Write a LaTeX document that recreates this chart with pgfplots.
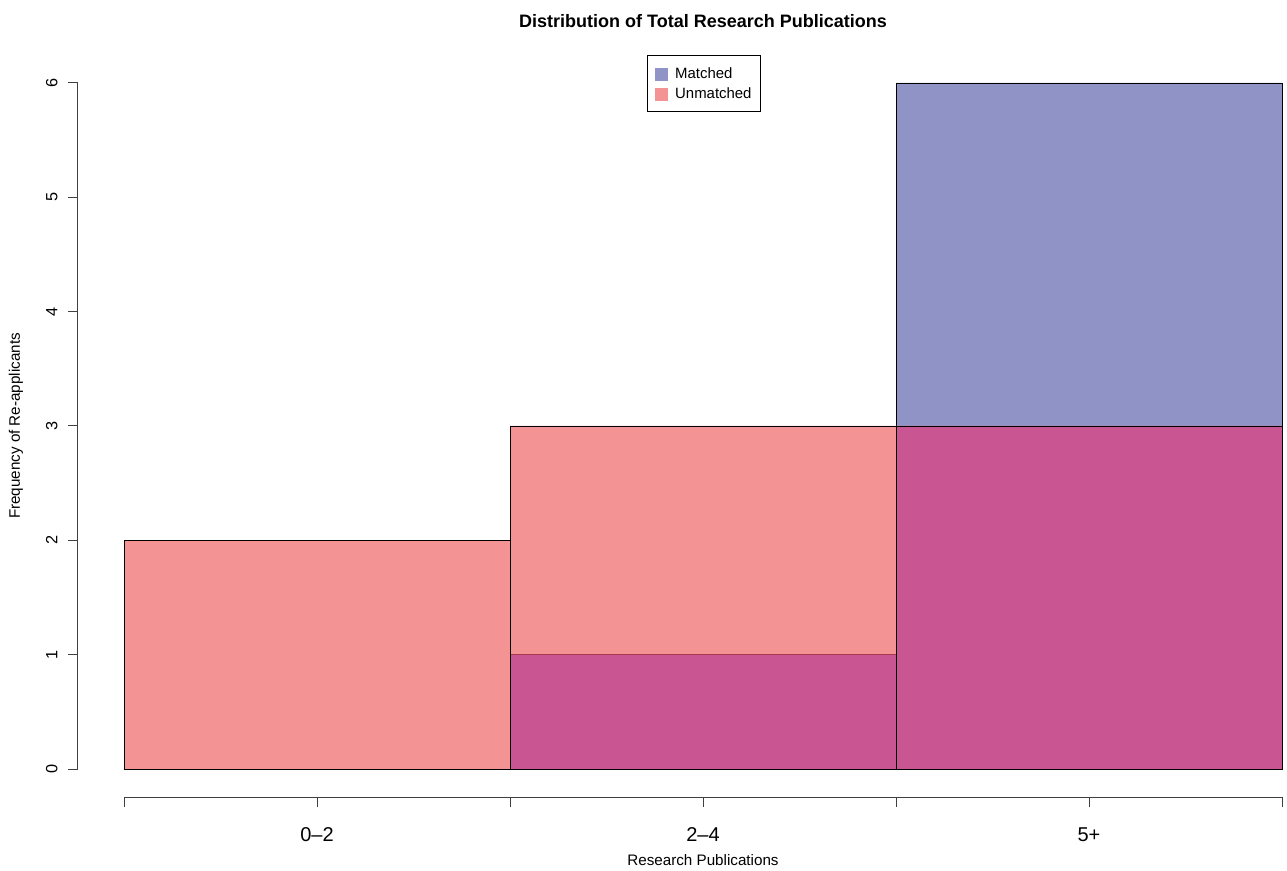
\documentclass[border=0pt]{standalone}
\usepackage{pgfplots}
\pgfplotsset{compat=1.18}
\usepackage{pgfplotstable}
\usepackage{fontspec}
\setmainfont{Liberation Sans}
\definecolor{matchedc}{HTML}{8F93C6}
\definecolor{unmatchedc}{HTML}{F49393}
\definecolor{overlapc}{HTML}{C95592}
\definecolor{overlapline}{HTML}{A8384E}
\pgfplotstableread{
x matched unmatched overlap
0 0 2 0
1 1 3 1
2 6 3 3
3 6 3 3
}\data
\begin{document}
\begin{tikzpicture}
\begin{axis}[
  x=289.5pt, y=85.75pt,
  xmin=-0.11917, xmax=3, ymin=-0.2449, ymax=6,
  axis x line=bottom, axis y line=left,
  axis line style={-, black!75, line width=0.75pt},
  x axis line style={shorten <=34.5pt},
  y axis line style={shorten <=21pt},
  tick align=outside, major tick length=7.5pt,
  tick style={black!75, line width=0.75pt},
  xtick={0,0.5,1,1.5,2,2.5,3},
  xticklabels={,0–2,,2–4,,5+,},
  ytick={0,1,2,3,4,5,6},
  /pgf/number format/assume math mode=true,
  xticklabel style={font=\fontsize{15}{15}\selectfont, anchor=base, yshift=-25.9pt},
  yticklabel style={font=\fontsize{12.2}{12.2}\selectfont, xshift=-8pt, rotate=90, anchor=base},
  xlabel={Research Publications},
  ylabel={Frequency of Re-applicants},
  xlabel style={font=\fontsize{11.4}{11.4}\selectfont, at={(axis description cs:0.5191,-0.09664)}, anchor=base},
  ylabel style={font=\fontsize{11.4}{11.4}\selectfont, at={(axis description cs:-0.04817,0.5196)}, anchor=base, rotate=0},
  title={Distribution of Total Research Publications},
  title style={font=\fontsize{13.5}{13.5}\selectfont\bfseries, at={(axis description cs:0.5191,1.0668)}, anchor=base},
  clip=false,
  legend style={at={(axis description cs:0.4726,1.0392)}, anchor=north west,
    draw=black, line width=0.75pt, font=\fontsize{11.2}{11.2}\selectfont,
    inner xsep=5.5pt, inner ysep=7.6pt, row sep=3.25pt,
    nodes={inner xsep=1.5pt, inner ysep=0pt, text height=10pt, text depth=1pt}},
  legend cell align=left,
  legend image code/.code={\fill[#1, draw=none] (0pt,-6.2pt) rectangle (9.75pt,3.55pt); \path (13.75pt,0pt);},
]
\addplot[ybar interval, fill=matchedc, draw=black, line width=0.6pt, forget plot] table[x=x, y=matched] {\data};
\addplot[ybar interval, fill=unmatchedc, draw=none, forget plot] table[x=x, y=unmatched] {\data};
\addplot[ybar interval, fill=overlapc, draw=overlapline, line width=0.6pt, forget plot] table[x=x, y=overlap] {\data};
\addplot[ybar interval, fill=none, draw=black, line width=0.6pt, forget plot] table[x=x, y=unmatched] {\data};
\addlegendimage{fill=matchedc, draw=none}
\addlegendentry{Matched}
\addlegendimage{fill=unmatchedc, draw=none}
\addlegendentry{Unmatched}
\coordinate (O) at (axis cs:0,0);
\end{axis}
\pgfresetboundingbox
\path[use as bounding box] ([shift={(-93pt,576.75pt)}]O) rectangle ([shift={(872.25pt,-75.75pt)}]O);
\end{tikzpicture}
\end{document}
